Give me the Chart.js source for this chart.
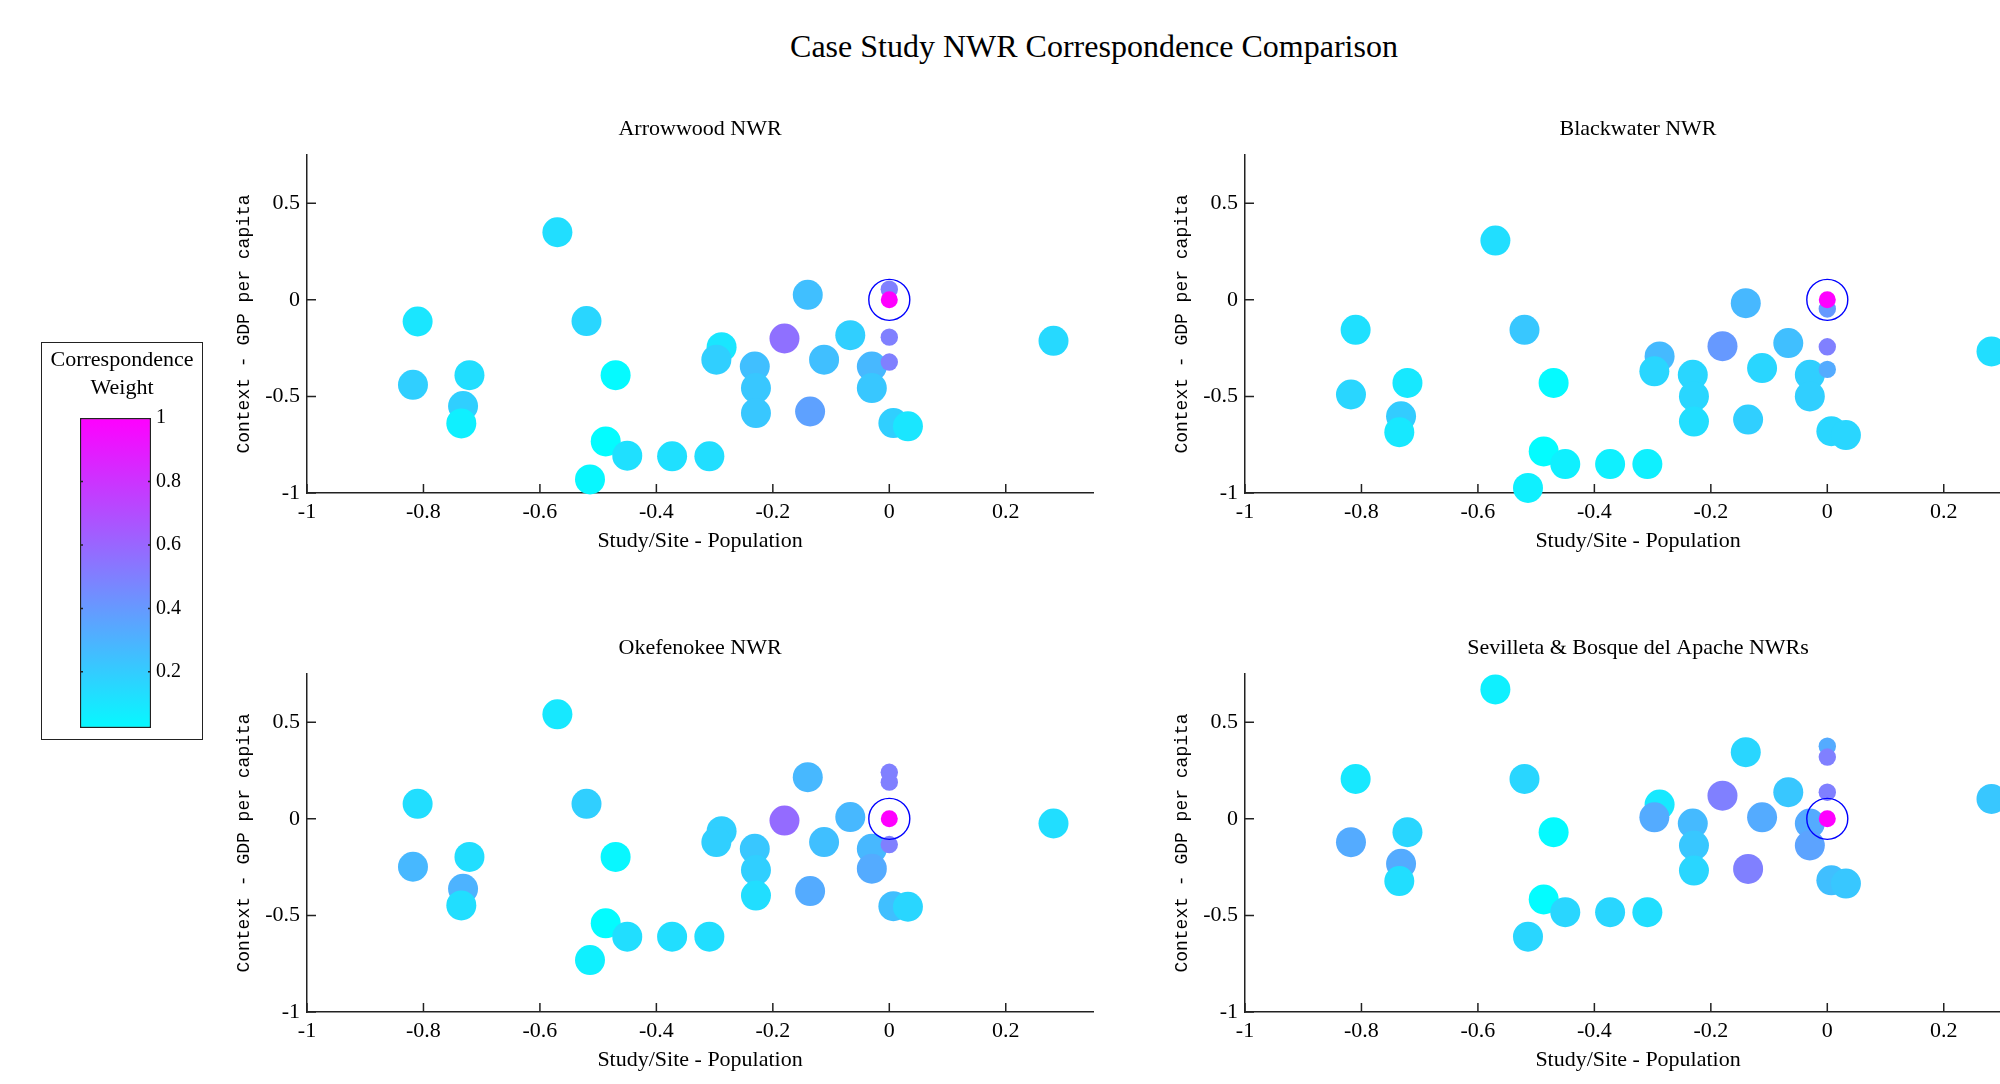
<!DOCTYPE html>
<html>
<head>
<meta charset="utf-8">
<title>Case Study NWR Correspondence Comparison</title>
<script src="https://cdn.jsdelivr.net/npm/chart.js@4.4.1/dist/chart.umd.min.js"></script>
<style>
  html, body { margin: 0; padding: 0; background: #fff; overflow: hidden; }
  body { width: 2000px; height: 1084px; position: relative; }
  canvas { position: absolute; }
  #title {
    position: absolute; left: 1094px; top: 46px; transform: translate(-50%, -50%);
    font: 32px "Liberation Serif", "Times New Roman", serif; line-height: 32px;
    white-space: nowrap; color: #000;
  }
  #cbframe {
    position: absolute; left: 41px; top: 342px; width: 162px; height: 398px;
    box-sizing: border-box; border: 1.5px solid #222;
  }
</style>
</head>
<body>
<div id="title">Case Study NWR Correspondence Comparison</div>
<div id="cbframe"></div>
<canvas id="colorbar" width="162" height="403" style="left:41px;top:342px"></canvas>
<canvas id="arrowwood" width="918" height="460" style="left:197px;top:105px"></canvas>
<canvas id="blackwater" width="918" height="460" style="left:1135px;top:105px"></canvas>
<canvas id="okefenokee" width="918" height="460" style="left:197px;top:624px"></canvas>
<canvas id="sevilleta" width="918" height="460" style="left:1135px;top:624px"></canvas>

<script>
// axes
const xMin = -1, xMax = 0.35;
const yMin = -1, yMax = 0.75;
const xTicks = [-1, -0.8, -0.6, -0.4, -0.2, 0, 0.2];
const yTicks = [-1, -0.5, 0, 0.5];

// colorbar
const cbMin = 0.023, cbMax = 1;
const cbTicks = [0.2, 0.4, 0.6, 0.8, 1];
const cbTitle = ['Correspondence', 'Weight'];

// study site (always at the origin, weight 1)
const studyX = 0, studyY = 0;

// comparison sites, same population difference on every panel
const siteX = [-0.57, -0.14, -0.81, -0.52, -0.18, -0.067, 0.282, -0.288, -0.297, -0.112,
  -0.231, -0.03, -0.818, -0.721, -0.47, -0.229, -0.03, -0.732, -0.735, -0.229,
  -0.136, 0.007, 0.032, -0.487, -0.45, -0.373, -0.309, -0.514];

// Arrowwood NWR
const arrowwoodY = [0.35, 0.026, -0.112, -0.11, -0.2, -0.183, -0.212, -0.245, -0.31, -0.31,
  -0.345, -0.345, -0.44, -0.39, -0.39, -0.457, -0.457, -0.55, -0.64, -0.586,
  -0.578, -0.638, -0.655, -0.733, -0.807, -0.81, -0.81, -0.93];
const arrowwoodW = [0.13, 0.25, 0.10, 0.16, 0.56, 0.19, 0.15, 0.10, 0.19, 0.25,
  0.25, 0.28, 0.19, 0.13, 0.02, 0.22, 0.22, 0.19, 0.06, 0.22,
  0.37, 0.19, 0.10, 0.01, 0.12, 0.12, 0.13, 0.03];
const arrowwoodSmallY = [0.055, -0.193, -0.322];
const arrowwoodSmallW = [0.5, 0.5, 0.5];

// Blackwater NWR
const blackwaterY = [0.307, -0.017, -0.155, -0.155, -0.24, -0.224, -0.267, -0.293, -0.37, -0.353,
  -0.388, -0.388, -0.49, -0.43, -0.43, -0.5, -0.5, -0.603, -0.685, -0.63,
  -0.62, -0.68, -0.70, -0.785, -0.85, -0.85, -0.85, -0.974];
const blackwaterW = [0.13, 0.28, 0.12, 0.22, 0.40, 0.25, 0.13, 0.27, 0.16, 0.16,
  0.16, 0.19, 0.16, 0.09, 0.02, 0.16, 0.19, 0.20, 0.09, 0.13,
  0.19, 0.16, 0.16, 0.01, 0.06, 0.06, 0.06, 0.06];
const blackwaterSmallY = [-0.047, -0.243, -0.36];
const blackwaterSmallW = [0.4, 0.5, 0.33];

// Okefenokee NWR
const okefenokeeY = [0.541, 0.216, 0.078, 0.078, -0.009, 0.009, -0.024, -0.064, -0.12, -0.12,
  -0.155, -0.155, -0.248, -0.197, -0.197, -0.265, -0.258, -0.362, -0.448, -0.397,
  -0.374, -0.452, -0.455, -0.541, -0.61, -0.61, -0.61, -0.731];
const okefenokeeW = [0.09, 0.28, 0.13, 0.19, 0.58, 0.28, 0.13, 0.19, 0.19, 0.25,
  0.22, 0.28, 0.28, 0.13, 0.03, 0.19, 0.33, 0.30, 0.13, 0.13,
  0.33, 0.25, 0.16, 0.01, 0.13, 0.13, 0.13, 0.06];
const okefenokeeSmallY = [0.241, 0.19, -0.133];
const okefenokeeSmallW = [0.5, 0.5, 0.5];

// Sevilleta & Bosque del Apache NWRs
const sevilletaY = [0.67, 0.345, 0.207, 0.207, 0.12, 0.138, 0.103, 0.074, 0.008, 0.008,
  -0.024, -0.024, -0.121, -0.069, -0.069, -0.138, -0.138, -0.233, -0.322, -0.268,
  -0.259, -0.318, -0.335, -0.417, -0.483, -0.483, -0.483, -0.61];
const sevilletaW = [0.06, 0.16, 0.09, 0.16, 0.50, 0.22, 0.22, 0.09, 0.33, 0.33,
  0.27, 0.33, 0.33, 0.16, 0.02, 0.22, 0.36, 0.33, 0.13, 0.16,
  0.50, 0.25, 0.22, 0.01, 0.16, 0.16, 0.13, 0.16];
const sevilletaSmallY = [0.376, 0.32, 0.138];
const sevilletaSmallW = [0.33, 0.5, 0.5];

const serif = '"Liberation Serif", "Times New Roman", serif';
const mono = '"Liberation Mono", "Courier New", monospace';
const axisColor = '#222';

Chart.defaults.font.family = serif;
Chart.defaults.color = '#000';

// matlab "cool" colormap
function cool(t) {
  return 'rgb(' + Math.round(255 * t) + ',' + Math.round(255 * (1 - t)) + ',255)';
}

// tick marks pointing into the plot, like matlab
const innerTicks = {
  id: 'innerTicks',
  beforeDatasetsDraw(chart) {
    const {ctx, chartArea: a, scales: {x, y}} = chart;
    ctx.save();
    ctx.strokeStyle = axisColor;
    ctx.lineWidth = 1.5;
    ctx.beginPath();
    xTicks.forEach(v => {
      const px = x.getPixelForValue(v);
      ctx.moveTo(px, a.bottom);
      ctx.lineTo(px, a.bottom - 9);
    });
    yTicks.forEach(v => {
      const py = y.getPixelForValue(v);
      ctx.moveTo(a.left, py);
      ctx.lineTo(a.left + 9, py);
    });
    ctx.stroke();
    ctx.restore();
  }
};

function makePanel(id, name, siteY, siteW, smallY, smallW) {
  new Chart(document.getElementById(id), {
    type: 'scatter',
    data: {
      datasets: [
        {
          data: siteX.map((x, i) => ({x: x, y: siteY[i]})),
          pointBackgroundColor: siteW.map(cool),
          pointBorderWidth: 0, pointRadius: 15, clip: false, order: 4
        },
        {
          data: smallY.map(y => ({x: studyX, y: y})),
          pointBackgroundColor: smallW.map(cool),
          pointBorderWidth: 0, pointRadius: 8.7, clip: false, order: 3
        },
        {
          data: [{x: studyX, y: studyY}],
          pointBackgroundColor: cool(1),
          pointBorderWidth: 0, pointRadius: 8.5, clip: false, order: 2
        },
        {
          data: [{x: studyX, y: studyY}],
          pointBackgroundColor: 'rgba(0,0,0,0)', pointBorderColor: '#0000ff',
          pointBorderWidth: 1.4, pointRadius: 20.5, clip: false, order: 1
        }
      ]
    },
    options: {
      responsive: false,
      animation: false,
      events: [],
      layout: { padding: { right: 10 } },
      plugins: {
        legend: { display: false },
        tooltip: { enabled: false },
        title: {
          display: true, text: name, fullSize: false, color: '#000',
          font: { size: 22, weight: 'normal' },
          padding: { top: 10.8, bottom: 12.8 }
        }
      },
      scales: {
        x: {
          type: 'linear', min: xMin, max: xMax,
          afterBuildTicks: s => { s.ticks = xTicks.map(v => ({value: v})); },
          afterFit: s => { s.height = 72; },
          ticks: { font: { size: 22 }, padding: 6, autoSkip: false, maxRotation: 0, callback: v => String(v) },
          grid: { display: false, drawTicks: false },
          border: { color: axisColor, width: 1.5 },
          title: { display: true, text: 'Study/Site - Population', font: { size: 22 }, padding: { top: 0, bottom: 10.8 } }
        },
        y: {
          type: 'linear', min: yMin, max: yMax,
          afterBuildTicks: s => { s.ticks = yTicks.map(v => ({value: v})); },
          afterFit: s => { s.width = 110; },
          ticks: { font: { size: 22 }, padding: 7, autoSkip: false, callback: v => String(v) },
          grid: { display: false, drawTicks: false },
          border: { color: axisColor, width: 1.5 },
          title: { display: true, text: 'Context - GDP per capita', font: { family: mono, size: 18 }, padding: { top: 36, bottom: 0 } }
        }
      }
    },
    plugins: [innerTicks]
  });
}

makePanel('arrowwood', 'Arrowwood NWR', arrowwoodY, arrowwoodW, arrowwoodSmallY, arrowwoodSmallW);
makePanel('blackwater', 'Blackwater NWR', blackwaterY, blackwaterW, blackwaterSmallY, blackwaterSmallW);
makePanel('okefenokee', 'Okefenokee NWR', okefenokeeY, okefenokeeW, okefenokeeSmallY, okefenokeeSmallW);
makePanel('sevilleta', 'Sevilleta & Bosque del Apache NWRs', sevilletaY, sevilletaW, sevilletaSmallY, sevilletaSmallW);

// colorbar: one floating bar with the colormap as gradient
const colorbarTicks = {
  id: 'colorbarTicks',
  afterDatasetsDraw(chart) {
    const {ctx, chartArea: a, scales: {y}} = chart;
    ctx.save();
    ctx.strokeStyle = axisColor;
    ctx.lineWidth = 1.5;
    ctx.beginPath();
    cbTicks.forEach(v => {
      if (v >= cbMax) return;
      const py = y.getPixelForValue(v);
      ctx.moveTo(a.left, py); ctx.lineTo(a.left + 3, py);
      ctx.moveTo(a.right, py); ctx.lineTo(a.right - 3, py);
    });
    ctx.stroke();
    ctx.restore();
  }
};

new Chart(document.getElementById('colorbar'), {
  type: 'bar',
  data: {
    labels: [''],
    datasets: [{
      data: [[cbMin, cbMax]],
      backgroundColor: c => {
        const a = c.chart.chartArea;
        if (!a) return cool(cbMin);
        const g = c.chart.ctx.createLinearGradient(0, a.bottom, 0, a.top);
        g.addColorStop(0, cool(cbMin));
        g.addColorStop(1, cool(cbMax));
        return g;
      },
      borderColor: axisColor, borderWidth: 1.5, borderSkipped: false,
      barPercentage: 1, categoryPercentage: 1
    }]
  },
  options: {
    responsive: false,
    animation: false,
    events: [],
    layout: { padding: { bottom: 17 } },
    plugins: {
      legend: { display: false },
      tooltip: { enabled: false },
      title: {
        display: true, text: cbTitle, color: '#000',
        font: { size: 22, weight: 'normal', lineHeight: 28 / 22 },
        padding: { top: 4, bottom: 16 }
      }
    },
    scales: {
      x: { display: false },
      y: {
        position: 'right', min: cbMin, max: cbMax,
        afterBuildTicks: s => { s.ticks = cbTicks.map(v => ({value: v})); },
        afterFit: s => { s.width = 52; },
        ticks: { font: { size: 20 }, padding: 5, callback: v => String(v) },
        grid: { display: false, drawTicks: false },
        border: { display: false }
      },
      yl: {
        position: 'left', min: cbMin, max: cbMax,
        afterFit: s => { s.width = 39; },
        ticks: { display: false },
        grid: { display: false, drawTicks: false },
        border: { display: false }
      }
    }
  },
  plugins: [colorbarTicks]
});
</script>
</body>
</html>
